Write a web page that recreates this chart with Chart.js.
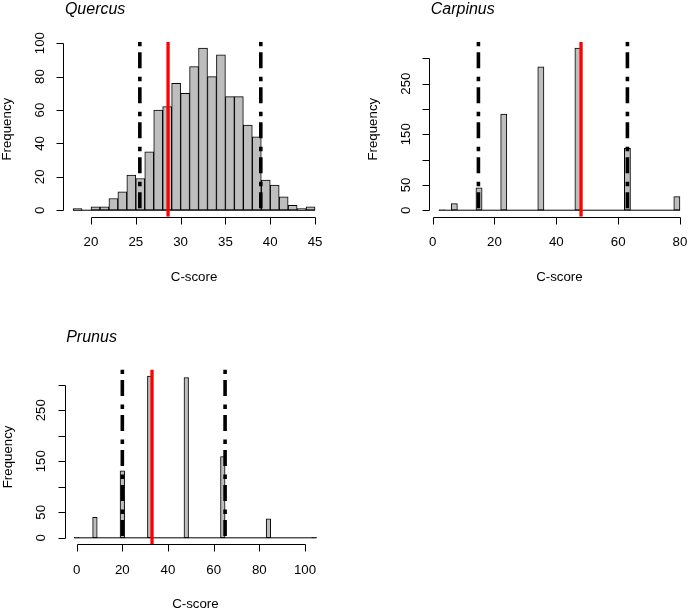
<!doctype html>
<html>
  <head>
    <meta charset="UTF-8">
    <title>C-score null distributions</title>
    <script src="https://cdn.jsdelivr.net/npm/chart.js"></script>
    <style>
      body { margin: 0; background: #fff; }
      .panel { position: absolute; }
    </style>
  </head>
  <body>
    <div class="panel" style="left:0px;top:0px"><canvas id="quercus" width="345" height="300"></canvas></div>
    <div class="panel" style="left:345px;top:0px"><canvas id="carpinus" width="345" height="300"></canvas></div>
    <div class="panel" style="left:0px;top:300px"><canvas id="prunus" width="345" height="309"></canvas></div>
    <script>
      // histogram counts, bins of equal width starting at the first break
      const quercusRange = [18, 45];
      const quercusBinWidth = 1;
      const quercusCounts = [1, 0, 2, 2, 7, 11, 21, 19, 35, 60, 62, 76, 70, 86, 97, 80, 93, 68, 68, 51, 44, 18, 15, 8, 3, 1, 2];
      const quercusLimits = [25.45, 38.95];
      const quercusObserved = 28.6;
      const quercusXTicks = [20, 25, 30, 35, 40, 45];
      const quercusYTicks = [0, 20, 40, 60, 80, 100];
      const quercusYLabels = [0, 20, 40, 60, 80, 100];

      const carpinusRange = [2, 80];
      const carpinusBinWidth = 2;
      const carpinusCounts = [1, 0, 13, 0, 0, 0, 44, 0, 0, 0,
                              190, 0, 0, 0, 0, 0, 283, 0, 0, 0,
                              0, 0, 320, 0, 0, 0, 0, 0, 0, 0,
                              122, 0, 0, 0, 0, 0, 0, 0, 27];
      const carpinusLimits = [14.8, 63];
      const carpinusObserved = 48;
      const carpinusXTicks = [0, 20, 40, 60, 80];
      const carpinusYTicks = [0, 50, 100, 150, 200, 250, 300];
      const carpinusYLabels = [0, 50, 150, 250];

      const prunusRange = [-1, 105];
      const prunusBinWidth = 2;
      const prunusCounts = [1, 0, 0, 0, 40, 0, 0, 0, 0, 0,
                            131, 0, 0, 0, 0, 0, 317, 0, 0, 0,
                            0, 0, 0, 0, 314, 0, 0, 0, 0, 0,
                            0, 0, 159, 0, 0, 0, 0, 0, 0, 0,
                            0, 0, 37, 0, 0, 0, 0, 0, 0, 0,
                            0, 0, 1];
      const prunusLimits = [20, 65];
      const prunusObserved = 33;
      const prunusXTicks = [0, 20, 40, 60, 80, 100];
      const prunusYTicks = [0, 50, 100, 150, 200, 250, 300];
      const prunusYLabels = [0, 50, 150, 250];

      const FONT = '"Liberation Sans", Arial, Helvetica, sans-serif';

      // base-R style axes: lines only between the outer ticks, labels parallel to the axis
      const rAxes = {
        id: 'rAxes',
        afterDraw(chart, args, o) {
          const { ctx, chartArea: a, scales: { x, y } } = chart;
          const snap = v => Math.round(v) + 0.5;
          ctx.save();
          ctx.strokeStyle = '#000';
          ctx.fillStyle = '#000';
          ctx.lineWidth = 1;

          const yb = snap(a.bottom);
          const xl = snap(a.left);
          ctx.beginPath();
          ctx.moveTo(snap(x.getPixelForValue(o.xTicks[0])), yb);
          ctx.lineTo(snap(x.getPixelForValue(o.xTicks[o.xTicks.length - 1])), yb);
          o.xTicks.forEach(v => {
            const px = snap(x.getPixelForValue(v));
            ctx.moveTo(px, yb);
            ctx.lineTo(px, yb + 7);
          });
          ctx.moveTo(xl, snap(y.getPixelForValue(o.yTicks[0])));
          ctx.lineTo(xl, snap(y.getPixelForValue(o.yTicks[o.yTicks.length - 1])));
          o.yTicks.forEach(v => {
            const py = snap(y.getPixelForValue(v));
            ctx.moveTo(xl, py);
            ctx.lineTo(xl - 7, py);
          });
          ctx.stroke();

          ctx.font = '13.3px ' + FONT;
          ctx.textAlign = 'center';
          ctx.textBaseline = 'alphabetic';
          o.xTicks.forEach(v => ctx.fillText(String(v), x.getPixelForValue(v), a.bottom + 29.3));
          ctx.fillText('C-score', (a.left + a.right) / 2, a.bottom + 64);

          ctx.textBaseline = 'middle';
          o.yLabels.forEach(v => {
            ctx.save();
            ctx.translate(a.left - 23, y.getPixelForValue(v));
            ctx.rotate(-Math.PI / 2);
            ctx.fillText(String(v), 0, 0);
            ctx.restore();
          });
          ctx.save();
          ctx.translate(a.left - 56, (a.top + a.bottom) / 2);
          ctx.rotate(-Math.PI / 2);
          ctx.fillText('Frequency', 0, 0);
          ctx.restore();

          ctx.font = 'italic 16px ' + FONT;
          ctx.textAlign = 'left';
          ctx.textBaseline = 'alphabetic';
          ctx.fillText(o.title, a.left + 1.5, a.top - 27.5);
          ctx.restore();
        }
      };

      // vertical reference line, drawn top to bottom so the dash pattern starts with a dot at the top
      function vline(xv, yMin, yMax, color, width, dash, order) {
        return {
          type: 'line',
          data: [{ x: xv, y: yMax }, { x: xv, y: yMin }],
          borderColor: color,
          borderWidth: width,
          borderDash: dash,
          pointRadius: 0,
          fill: false,
          order
        };
      }

      function renderHistogram(id, title, range, binWidth, counts, limits, observed, xTicks, yTicks, yLabels, padding) {
        const bars = counts.map((c, i) => ({ x: range[0] + binWidth * (i + 0.5), y: c }));
        const span = range[1] - range[0];
        const xMin = range[0] - 0.04 * span;
        const xMax = range[1] + 0.04 * span;
        const top = Math.max(...counts);
        const yMin = -0.04 * top;
        const yMax = 1.04 * top;
        const dash = [4.5, 6, 16, 8.5];

        new Chart(document.getElementById(id), {
          type: 'bar',
          data: {
            datasets: [
              {
                type: 'bar',
                data: bars,
                backgroundColor: '#bebebe',
                borderColor: '#000',
                borderWidth: 1,
                borderSkipped: false,
                barPercentage: 1,
                categoryPercentage: 1,
                order: 4
              },
              {
                type: 'line',
                data: [{ x: range[0], y: 0 }, { x: range[1], y: 0 }],
                borderColor: '#000',
                borderWidth: 1,
                pointRadius: 0,
                order: 3
              },
              vline(limits[0], yMin, yMax, '#000', 3.6, dash, 2),
              vline(limits[1], yMin, yMax, '#000', 3.6, dash, 1),
              vline(observed, yMin, yMax, '#ff0000', 3.3, [], 0)
            ]
          },
          options: {
            responsive: false,
            animation: false,
            events: [],
            layout: { padding },
            plugins: {
              legend: { display: false },
              tooltip: { enabled: false },
              rAxes: { title, xTicks, yTicks, yLabels }
            },
            scales: {
              x: { type: 'linear', min: xMin, max: xMax, offset: false, display: false },
              y: { type: 'linear', min: yMin, max: yMax, display: false }
            }
          },
          plugins: [rAxes]
        });
      }

      renderHistogram('quercus', 'Quercus', quercusRange, quercusBinWidth, quercusCounts,
        quercusLimits, quercusObserved, quercusXTicks, quercusYTicks, quercusYLabels,
        { left: 63.4, top: 41.7, right: 20.3, bottom: 83.3 });

      renderHistogram('carpinus', 'Carpinus', carpinusRange, carpinusBinWidth, carpinusCounts,
        carpinusLimits, carpinusObserved, carpinusXTicks, carpinusYTicks, carpinusYLabels,
        { left: 84.2, top: 41.7, right: 0.4, bottom: 83.3 });

      renderHistogram('prunus', 'Prunus', prunusRange, prunusBinWidth, prunusCounts,
        prunusLimits, prunusObserved, prunusXTicks, prunusYTicks, prunusYLabels,
        { left: 64.7, top: 69.5, right: 18.9, bottom: 64.7 });
    </script>
  </body>
</html>
